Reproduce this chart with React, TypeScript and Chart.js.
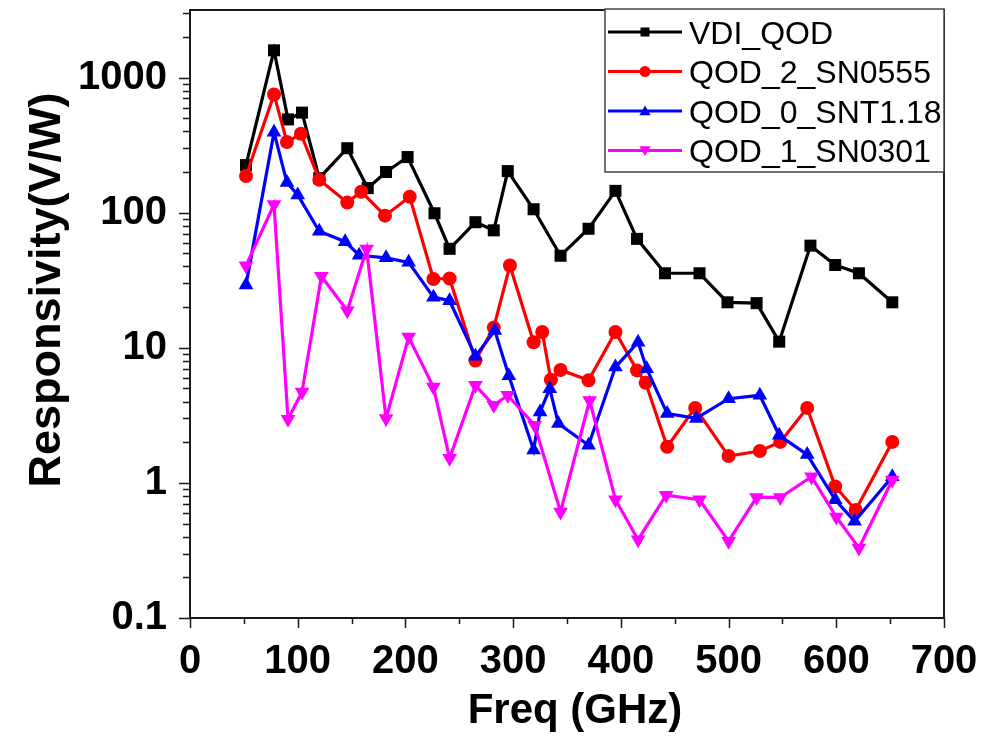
import React, { useEffect, useRef } from 'react';
import { Chart, registerables } from 'chart.js';

Chart.register(...registerables);

// ---- data ----
const seriesLabels = ['VDI_QOD', 'QOD_2_SN0555', 'QOD_0_SNT1.18', 'QOD_1_SN0301'];

const vdiFreq = [52, 78, 91, 104, 120, 146, 165, 182, 202, 227, 241, 265, 282, 295, 319, 344, 370, 395, 415, 441, 473, 499, 526, 547, 576, 599, 621, 652];
const vdiResp = [225, 1590, 490, 550, 180, 300, 152, 200, 258, 99, 54, 85, 74, 203, 106, 48, 76, 145, 64, 35.6, 35.6, 21.7, 21.4, 11.1, 57, 41, 35.6, 21.7];

const qod2Freq = [52, 78, 90, 103, 120, 146, 159, 181, 204, 226, 241, 265, 282, 297, 319, 327, 335, 344, 370, 395, 415, 423, 443, 469, 500, 529, 548, 573, 599, 618, 652];
const qod2Resp = [187, 750, 333, 384, 175, 119, 143, 95, 131, 32.3, 32.6, 8.05, 14.1, 40.6, 11.0, 13.1, 5.8, 6.85, 5.74, 13.1, 6.8, 5.5, 1.85, 3.59, 1.58, 1.72, 2.01, 3.59, 0.94, 0.63, 2.01];

const qod0Freq = [52, 78, 90, 100, 120, 144, 157, 182, 203, 226, 241, 265, 283, 296, 319, 325, 334, 342, 370, 395, 416, 424, 443, 470, 500, 529, 547, 573, 599, 617, 652];
const qod0Resp = [29.2, 393, 167, 135, 72.8, 61, 48.4, 46.3, 42.9, 23.7, 22.3, 8.65, 13.4, 6.2, 1.75, 3.35, 4.98, 2.75, 1.9, 7.2, 11.0, 7.0, 3.26, 3.0, 4.2, 4.45, 2.25, 1.62, 0.75, 0.52, 1.11];

const qod1Freq = [52, 78, 91, 104, 122, 146, 164, 182, 203, 226, 241, 265, 282, 295, 320, 344, 371, 395, 416, 442, 473, 500, 526, 548, 577, 600, 621, 652];
const qod1Resp = [40.5, 115, 2.96, 4.7, 33.8, 18.8, 53.8, 3.0, 12.0, 5.13, 1.52, 5.27, 3.75, 4.45, 2.67, 0.61, 4.08, 0.75, 0.38, 0.81, 0.75, 0.37, 0.78, 0.78, 1.11, 0.56, 0.33, 1.05];

const xTickValues = [0, 100, 200, 300, 400, 500, 600, 700];
const xTickLabels = ['0', '100', '200', '300', '400', '500', '600', '700'];
const xMinorValues = [50, 150, 250, 350, 450, 550, 650];
const yTickValues = [0.1, 1, 10, 100, 1000];
const yTickLabels = ['0.1', '1', '10', '100', '1000'];

const xTitle = 'Freq (GHz)';
const yTitle = 'Responsivity(V/W)';

const seriesColors = ['#000000', '#ff0000', '#0000ff', '#ff00ff'];

function pts(xs: number[], ys: number[]) {
  return xs.map((x, i) => ({ x, y: ys[i] }));
}

function drawMarker(ctx: CanvasRenderingContext2D, kind: number, x: number, y: number, r: number) {
  ctx.beginPath();
  if (kind === 0) {
    ctx.rect(x - r, y - r, 2 * r, 2 * r);
  } else if (kind === 1) {
    ctx.arc(x, y, r, 0, Math.PI * 2);
  } else if (kind === 2) {
    ctx.moveTo(x, y - r);
    ctx.lineTo(x + r * 0.866, y + r * 0.5);
    ctx.lineTo(x - r * 0.866, y + r * 0.5);
    ctx.closePath();
  } else {
    ctx.moveTo(x, y + r);
    ctx.lineTo(x + r * 0.866, y - r * 0.5);
    ctx.lineTo(x - r * 0.866, y - r * 0.5);
    ctx.closePath();
  }
  ctx.fill();
}

const framePlugin = {
  id: 'framePlugin',
  afterDraw(chart: any) {
    const { ctx, chartArea: a, scales } = chart;
    const xs = scales.x;
    const ys = scales.y;
    ctx.save();
    // frame
    ctx.strokeStyle = '#1a1a1a';
    ctx.lineWidth = 2;
    ctx.strokeRect(a.left, a.top, a.right - a.left, a.bottom - a.top);

    // y tick marks (major + minor), outward
    ctx.lineWidth = 1.5;
    ctx.beginPath();
    for (let e = -1; e <= 3; e++) {
      for (let m = 1; m <= 9; m++) {
        const v = m * Math.pow(10, e);
        if (v > ys.max) break;
        const py = Math.round(ys.getPixelForValue(v)) + 0.5;
        const len = m === 1 ? 11 : 7;
        ctx.moveTo(a.left - len, py);
        ctx.lineTo(a.left, py);
      }
    }
    // x tick marks
    xTickValues.forEach((v) => {
      const px = Math.round(xs.getPixelForValue(v)) + 0.5;
      ctx.moveTo(px, a.bottom);
      ctx.lineTo(px, a.bottom + 10);
    });
    xMinorValues.forEach((v) => {
      const px = Math.round(xs.getPixelForValue(v)) + 0.5;
      ctx.moveTo(px, a.bottom);
      ctx.lineTo(px, a.bottom + 6);
    });
    ctx.stroke();

    // axis titles
    ctx.fillStyle = '#000';
    ctx.font = 'bold 42px "Liberation Sans", Arial, sans-serif';
    ctx.textAlign = 'center';
    ctx.textBaseline = 'alphabetic';
    ctx.fillText(xTitle, 575, 723);

    ctx.save();
    ctx.translate(60, 290);
    ctx.rotate(-Math.PI / 2);
    ctx.font = 'bold 45px "Liberation Sans", Arial, sans-serif';
    ctx.fillText(yTitle, 0, 0);
    ctx.restore();

    // legend box
    const bx = 605, by = 9, bw = a.right - 605, bh = 163;
    ctx.fillStyle = '#ffffff';
    ctx.fillRect(bx, by, bw, bh);
    ctx.strokeStyle = '#444';
    ctx.lineWidth = 1.5;
    ctx.strokeRect(bx, by, bw, bh);

    const rows = [32, 71.5, 111, 150.5];
    chart.data.datasets.forEach((ds: any, i: number) => {
      const ry = rows[i];
      ctx.strokeStyle = ds.borderColor;
      ctx.lineWidth = 3;
      ctx.beginPath();
      ctx.moveTo(608, ry);
      ctx.lineTo(682, ry);
      ctx.stroke();
      ctx.fillStyle = ds.borderColor;
      const r = i === 0 ? 4.5 : i === 1 ? 5.5 : 6.5;
      drawMarker(ctx, i, 645, ry + (i === 2 ? 1 : i === 3 ? -1 : 0), r);
      ctx.fillStyle = '#000';
      ctx.font = '32px "Liberation Sans", Arial, sans-serif';
      ctx.textAlign = 'left';
      ctx.textBaseline = 'alphabetic';
      ctx.fillText(ds.label, 689, ry + 11.5);
    });
    ctx.restore();
  },
};

export default function App() {
  const canvasRef = useRef<HTMLCanvasElement | null>(null);

  useEffect(() => {
    const canvas = canvasRef.current;
    if (!canvas) return;
    const common = { borderWidth: 3.2, pointBorderWidth: 0, fill: false, tension: 0 };
    const chart = new Chart(canvas, {
      type: 'line',
      data: {
        datasets: [
          {
            ...common,
            label: seriesLabels[0],
            data: pts(vdiFreq, vdiResp),
            borderColor: seriesColors[0],
            backgroundColor: seriesColors[0],
            pointStyle: 'rect',
            pointRadius: 8.5,
            order: 4,
          },
          {
            ...common,
            label: seriesLabels[1],
            data: pts(qod2Freq, qod2Resp),
            borderColor: seriesColors[1],
            backgroundColor: seriesColors[1],
            pointStyle: 'circle',
            pointRadius: 7,
            order: 3,
          },
          {
            ...common,
            label: seriesLabels[2],
            data: pts(qod0Freq, qod0Resp),
            borderColor: seriesColors[2],
            backgroundColor: seriesColors[2],
            pointStyle: 'triangle',
            pointRadius: 8.5,
            order: 2,
          },
          {
            ...common,
            label: seriesLabels[3],
            data: pts(qod1Freq, qod1Resp),
            borderColor: seriesColors[3],
            backgroundColor: seriesColors[3],
            pointStyle: 'triangle',
            pointRotation: 180,
            pointRadius: 8.5,
            order: 1,
          },
        ],
      },
      options: {
        animation: false,
        responsive: false,
        maintainAspectRatio: false,
        layout: { padding: { top: 10, right: 55, left: 0, bottom: 0 } },
        plugins: {
          legend: { display: false },
          tooltip: { enabled: false },
          title: { display: false },
        },
        scales: {
          x: {
            type: 'linear',
            min: 0,
            max: 700,
            grid: { display: false, drawTicks: false },
            border: { display: false },
            afterBuildTicks: (s: any) => {
              s.ticks = xTickValues.map((v) => ({ value: v }));
            },
            afterFit: (s: any) => {
              s.height = 126;
              s.paddingLeft = 0;
              s.paddingRight = 0;
              s.paddingTop = 0;
              s.paddingBottom = 0;
            },
            ticks: {
              autoSkip: false,
              maxRotation: 0,
              minRotation: 0,
              padding: 20,
              color: '#000',
              font: { family: '"Liberation Sans Narrow", "Liberation Sans", Arial, sans-serif', size: 40, weight: 'bold' },
              callback: (_v: any, i: number) => xTickLabels[i],
            },
          },
          y: {
            type: 'logarithmic',
            min: 0.1,
            max: 3162,
            grid: { display: false, drawTicks: false },
            border: { display: false },
            afterBuildTicks: (s: any) => {
              s.ticks = yTickValues.map((v) => ({ value: v }));
            },
            afterFit: (s: any) => {
              s.width = 190;
              s.paddingLeft = 0;
              s.paddingRight = 0;
              s.paddingTop = 0;
              s.paddingBottom = 0;
            },
            ticks: {
              autoSkip: false,
              padding: 23,
              color: '#000',
              font: { family: '"Liberation Sans", Arial, sans-serif', size: 40, weight: 'bold' },
              callback: (_v: any, i: number) => yTickLabels[i],
            },
          },
        },
      },
      plugins: [framePlugin],
    } as any);
    return () => chart.destroy();
  }, []);

  return (
    <div style={{ position: 'fixed', left: 0, top: 0, width: 999, height: 744, background: '#fff' }}>
      <canvas ref={canvasRef} width={999} height={744} style={{ width: 999, height: 744, display: 'block' }} />
    </div>
  );
}
